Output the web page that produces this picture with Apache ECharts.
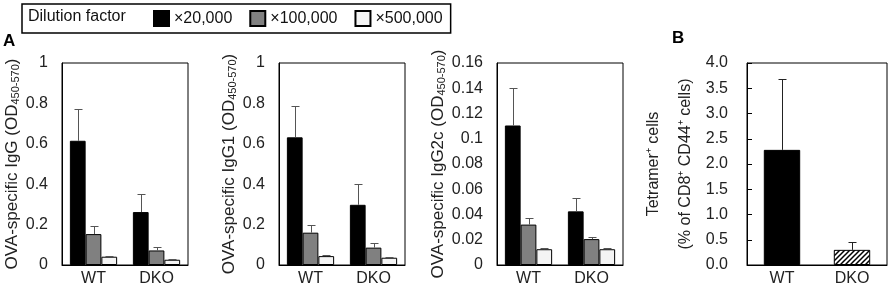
<!DOCTYPE html>
<html>
<head>
<meta charset="utf-8">
<script src="https://cdn.jsdelivr.net/npm/echarts@6/dist/echarts.min.js"></script>
<style>
  html, body { margin: 0; padding: 0; background: #fff; }
  #chart { width: 896px; height: 288px; }
</style>
</head>
<body>
<div id="chart"></div>
<script>
// 数据：均值与标准差
const categories = ['WT', 'DKO'];
const dilutions = ['×20,000', '×100,000', '×500,000'];

// IgG
const iggMean20 = [0.615, 0.262];
const iggSd20 = [0.155, 0.09];
const iggMean100 = [0.153, 0.072];
const iggSd100 = [0.038, 0.018];
const iggMean500 = [0.041, 0.026];
const iggSd500 = [0.004, 0.003];

// IgG1
const igg1Mean20 = [0.632, 0.298];
const igg1Sd20 = [0.156, 0.102];
const igg1Mean100 = [0.16, 0.086];
const igg1Sd100 = [0.04, 0.022];
const igg1Mean500 = [0.044, 0.036];
const igg1Sd500 = [0.004, 0.004];

// IgG2c
const igg2cMean20 = [0.1105, 0.0425];
const igg2cSd20 = [0.0295, 0.0105];
const igg2cMean100 = [0.032, 0.0205];
const igg2cSd100 = [0.005, 0.002];
const igg2cMean500 = [0.0125, 0.0125];
const igg2cSd500 = [0.0008, 0.0007];

// B: Tetramer+ cells
const tetMean = [2.28, 0.30];
const tetSd = [1.4, 0.15];

const FONT = 'Liberation Sans, Arial, sans-serif';
const fills = ['#000000', '#808080', '#f4f4f4'];

// 斜线填充
function hatch() {
    const c = document.createElement('canvas');
    c.width = 5; c.height = 5;
    const g = c.getContext('2d');
    g.fillStyle = '#fff'; g.fillRect(0, 0, 5, 5);
    g.strokeStyle = '#000'; g.lineWidth = 1.5;
    g.beginPath();
    g.moveTo(-1, 6); g.lineTo(6, -1);
    g.moveTo(-1, 1); g.lineTo(1, -1);
    g.moveTo(4, 6); g.lineTo(6, 4);
    g.stroke();
    return c;
}

function errSeries(gi, means, sds, k, frac, color) {
    return {
        type: 'custom', xAxisIndex: gi, yAxisIndex: gi, z: 3, silent: true,
        data: means.map((m, i) => [i, m, m + sds[i]]),
        encode: { x: 0, y: [1, 2] },
        renderItem: (params, api) => {
            const band = api.size([1, 0])[0];
            const base = api.coord([api.value(0), api.value(1)]);
            const top = api.coord([api.value(0), api.value(2)]);
            const x = Math.round(base[0] + k * band * frac) + 0.5;
            const y = Math.round(top[1]) + 0.5;
            return { type: 'group', children: [
                { type: 'line', shape: { x1: x, y1: base[1], x2: x, y2: y }, style: { stroke: color, lineWidth: 1 } },
                { type: 'line', shape: { x1: x - 4, y1: y, x2: x + 4, y2: y }, style: { stroke: color, lineWidth: 1 } }
            ]};
        }
    };
}

const panels = [
    { name: '{a|OVA-specific IgG (OD}{s|450-570}{a|)}', max: 1, interval: 0.2, gap: 40,
      means: [iggMean20, iggMean100, iggMean500], sds: [iggSd20, iggSd100, iggSd500] },
    { name: '{a|OVA-specific IgG1 (OD}{s|450-570}{a|)}', max: 1, interval: 0.2, gap: 40,
      means: [igg1Mean20, igg1Mean100, igg1Mean500], sds: [igg1Sd20, igg1Sd100, igg1Sd500] },
    { name: '{a|OVA-specific IgG2c (OD}{s|450-570}{a|)}', max: 0.16, interval: 0.02, gap: 46,
      means: [igg2cMean20, igg2cMean100, igg2cMean500], sds: [igg2cSd20, igg2cSd100, igg2cSd500] }
];
const lefts = [62, 279, 497];

const grid = [], xAxis = [], yAxis = [], series = [];
const nameRich = {
    a: { fontFamily: FONT, fontSize: 17, color: '#222', lineHeight: 20 },
    s: { fontFamily: FONT, fontSize: 11, color: '#222', lineHeight: 12, verticalAlign: 'bottom' }
};

function addAxes(gi, left, width, yOpt) {
    grid.push({ left: left, top: 63, width: width, height: 202, show: true, borderColor: '#000', borderWidth: 1 });
    xAxis.push({
        type: 'category', gridIndex: gi, data: categories,
        axisLine: { lineStyle: { color: '#000', width: 1 } },
        axisTick: { show: false },
        axisLabel: { fontFamily: FONT, fontSize: 16, color: '#222', margin: 6 }
    });
    yAxis.push(Object.assign({
        type: 'value', gridIndex: gi, min: 0,
        splitLine: { show: false },
        axisLine: { show: true, lineStyle: { color: '#000', width: 1 } },
        axisLabel: { fontFamily: FONT, fontSize: 16, color: '#222', margin: 14 },
        nameLocation: 'middle', nameRotate: 90,
        nameTextStyle: { rich: nameRich }
    }, yOpt));
}

panels.forEach((p, gi) => {
    addAxes(gi, lefts[gi], 126, { max: p.max, interval: p.interval, name: p.name, nameGap: p.gap, axisTick: { show: false } });
    p.means.forEach((m, k) => {
        series.push({
            type: 'bar', name: dilutions[k], xAxisIndex: gi, yAxisIndex: gi, data: m,
            barWidth: '25%', barGap: '0%', z: 2,
            itemStyle: { color: fills[k], borderColor: '#000', borderWidth: 1 }
        });
        series.push(errSeries(gi, m, p.sds[k], k - 1, 0.25, '#555'));
    });
});

// B
addAxes(3, 747, 140, {
    max: 4, interval: 0.5, nameGap: 34,
    name: 'Tetramer⁺ cells\n(% of CD8⁺ CD44⁺ cells)',
    nameTextStyle: { fontFamily: FONT, fontSize: 16, color: '#222', lineHeight: 32 },
    axisTick: { show: true, inside: true, length: 5, lineStyle: { color: '#000' } },
    axisLabel: { fontFamily: FONT, fontSize: 16, color: '#222', margin: 19, formatter: v => v.toFixed(1) }
});
series.push({
    type: 'bar', name: 'Tetramer', xAxisIndex: 3, yAxisIndex: 3, barWidth: '52%', z: 2,
    data: [
        { value: tetMean[0], itemStyle: { color: '#000' } },
        { value: tetMean[1], itemStyle: { color: { image: hatch(), repeat: 'repeat' } } }
    ],
    itemStyle: { borderColor: '#000', borderWidth: 1 }
});
series.push(errSeries(3, tetMean, tetSd, 0, 0, '#222'));

const chart = echarts.init(document.getElementById('chart'));
chart.setOption({
    backgroundColor: '#fff',
    animation: false,
    textStyle: { fontFamily: FONT },
    legend: {
        data: dilutions, left: 22, top: 4, orient: 'horizontal',
        icon: 'rect', itemWidth: 15, itemHeight: 15, itemGap: 17,
        padding: [6, 8, 6, 131],
        borderColor: '#000', borderWidth: 1.5,
        textStyle: { fontFamily: FONT, fontSize: 16, color: '#111' },
        selectedMode: false
    },
    graphic: [
        { type: 'text', left: 28, top: 9, style: { text: 'Dilution factor', font: '16px ' + FONT, fill: '#111' } },
        { type: 'text', left: 3, top: 33, style: { text: 'A', font: 'bold 17px ' + FONT, fill: '#000' } },
        { type: 'text', left: 672, top: 30, style: { text: 'B', font: 'bold 17px ' + FONT, fill: '#000' } }
    ],
    grid: grid, xAxis: xAxis, yAxis: yAxis, series: series
});
</script>
</body>
</html>
